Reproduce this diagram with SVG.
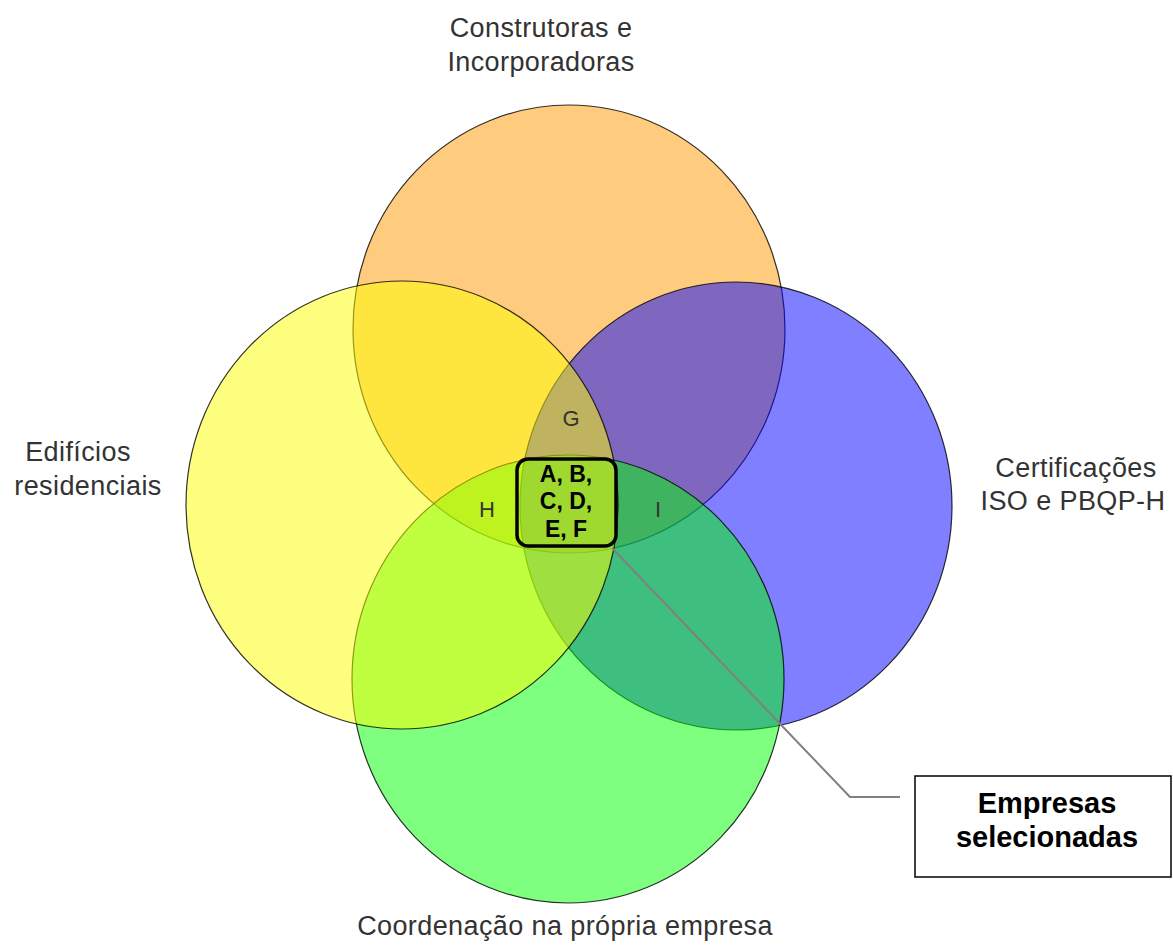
<svg xmlns="http://www.w3.org/2000/svg" width="1173" height="948" viewBox="0 0 1173 948">
<style>
.c{fill-opacity:0.5;stroke:#000;stroke-width:1.2;stroke-opacity:0.8}
.lbl{font-family:"Liberation Sans",Arial,sans-serif;font-size:27px;letter-spacing:0.4px;fill:#333;text-anchor:middle}
.sm{font-family:"Liberation Sans",Arial,sans-serif;font-size:22px;fill:#333;text-anchor:middle}
.b{font-family:"Liberation Sans",Arial,sans-serif;font-weight:bold;fill:#000;text-anchor:middle}
</style>
<rect width="1173" height="948" fill="#fff"/>
<g id="construtoras"><ellipse class="c" cx="569" cy="329" rx="216" ry="224" fill="#FF9900"/></g>
<g id="certificacoes"><ellipse class="c" cx="736" cy="506" rx="216" ry="224" fill="#0000FF"/></g>
<g id="coordenacao"><ellipse class="c" cx="568" cy="679" rx="216" ry="224" fill="#00FF00"/></g>
<g id="edificios"><ellipse class="c" cx="402" cy="505" rx="216" ry="224" fill="#FFFF00"/></g>
<g id="labels">
<text class="lbl" x="541" y="37">Construtoras e</text>
<text class="lbl" x="541" y="71">Incorporadoras</text>
<text class="lbl" x="78" y="461">Edifícios</text>
<text class="lbl" x="88" y="495">residenciais</text>
<text class="lbl" x="1076" y="477">Certificações</text>
<text class="lbl" x="1073" y="510">ISO e PBQP-H</text>
<text class="lbl" x="565" y="935">Coordenação na própria empresa</text>
<text class="sm" x="571" y="426">G</text>
<text class="sm" x="487" y="517">H</text>
<text class="sm" x="658" y="517">I</text>
</g>
<g id="connectors">
<polyline points="612,548 850,797 900,797" fill="none" stroke="#808080" stroke-width="2"/>
</g>
<g id="selecionadas">
<rect x="517" y="459" width="99" height="87" rx="11" fill="none" stroke="#000" stroke-width="3.5"/>
<text class="b" font-size="23" x="566" y="482">A, B,</text>
<text class="b" font-size="23" x="566" y="509">C, D,</text>
<text class="b" font-size="23" x="566" y="537">E, F</text>
</g>
<g id="empresas">
<rect x="915" y="776" width="256" height="101" fill="#fff" stroke="#000" stroke-width="1.5"/>
<text class="b" font-size="29" x="1047" y="813">Empresas</text>
<text class="b" font-size="29" x="1047" y="847">selecionadas</text>
</g>
</svg>
